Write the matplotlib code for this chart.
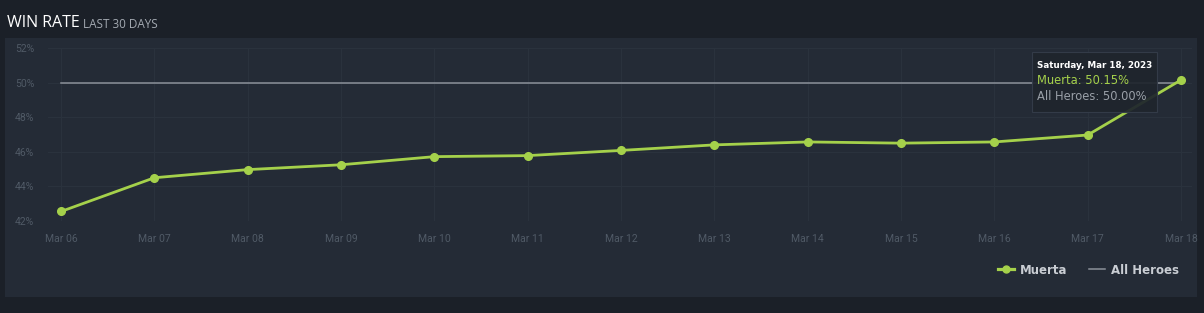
import matplotlib.pyplot as plt
from matplotlib.patches import Rectangle
from matplotlib.lines import Line2D

dates = ['Mar 06', 'Mar 07', 'Mar 08', 'Mar 09', 'Mar 10', 'Mar 11', 'Mar 12',
         'Mar 13', 'Mar 14', 'Mar 15', 'Mar 16', 'Mar 17', 'Mar 18']
muerta = [42.55, 44.5, 44.97, 45.25, 45.72, 45.78, 46.08, 46.4, 46.57, 46.5, 46.57, 46.97, 50.15]
all_heroes = [50.0] * 13
y_ticks = [42, 44, 46, 48, 50, 52]

W, H = 1204, 313
bg = '#1b2028'
panel = '#242b36'
green = '#a5d14b'

fig = plt.figure(figsize=(W / 100, H / 100), dpi=100, facecolor=bg)

def px(x, y):
    return x / W, 1 - y / H

# panel behind the chart
fig.patches.append(Rectangle(px(5, 297), 1192 / W, 259 / H, transform=fig.transFigure,
                             facecolor=panel, edgecolor='none', zorder=-1))

fig.text(*px(7, 23), 'WIN RATE', color='white', fontsize=11.5, family='Open Sans',
         va='center', ha='left')
fig.text(*px(83, 24), 'LAST 30 DAYS', color='#a3a9b1', fontsize=8.5, family='Open Sans',
         va='center', ha='left')

x0, x1 = 48, 1192
ax = fig.add_axes([x0 / W, 1 - 221 / H, (x1 - x0) / W, (221 - 48) / H])
ax.set_zorder(2)
ax.set_facecolor('none')
xs = list(range(len(dates)))
step = (1181 - 61) / 12
ax.set_xlim(-(61 - x0) / step, 12 + (x1 - 1181) / step)
ax.set_ylim(42, 52)

ax.grid(True, color='#2b333e', lw=0.7)
ax.set_axisbelow(True)
for s in ax.spines.values():
    s.set_visible(False)

ax.plot(xs, all_heroes, color='#8c929a', lw=1.1, zorder=2)
ax.plot(xs, muerta, color=green, lw=2.0, marker='o', ms=5.5, zorder=3)

ax.set_xticks(xs)
ax.set_xticklabels(dates)
ax.set_yticks(y_ticks)
ax.set_yticklabels([f'{v}%' for v in y_ticks])
ax.tick_params(colors='#505a66', labelsize=7.5, length=0, pad=9)
for t in ax.get_xticklabels() + ax.get_yticklabels():
    t.set_family('Roboto')
ax.tick_params(axis='y', pad=10)

# tooltip
fig.patches.append(Rectangle(px(1032, 112), 125 / W, 60 / H, transform=fig.transFigure,
                             facecolor='#1f252d', edgecolor='#353d4a', lw=0.8,
                             alpha=0.93, zorder=5))
fig.text(*px(1037, 66), 'Saturday, Mar 18, 2023', color='white', fontsize=6.3,
         weight='bold', family='DejaVu Sans', va='center', zorder=6)
fig.text(*px(1037, 81), 'Muerta: 50.15%', color=green, fontsize=8.3,
         family='DejaVu Sans', va='center', zorder=6)
fig.text(*px(1037, 96), 'All Heroes: 50.00%', color='#9aa0a8', fontsize=8.3,
         family='DejaVu Sans', va='center', zorder=6)

handles = [Line2D([], [], color=green, lw=2.3, marker='o', ms=5),
           Line2D([], [], color='#8c929a', lw=1.1)]
fig.legend(handles, ['Muerta', 'All Heroes'], loc='center right',
           bbox_to_anchor=px(1190, 270), ncol=2, frameon=False,
           labelcolor='#c9cdd3', prop={'weight': 'bold', 'size': 8.5, 'family': 'DejaVu Sans'},
           handlelength=1.4, handletextpad=0.5, columnspacing=1.8)

fig.savefig('out.png', dpi=100, facecolor=bg)
